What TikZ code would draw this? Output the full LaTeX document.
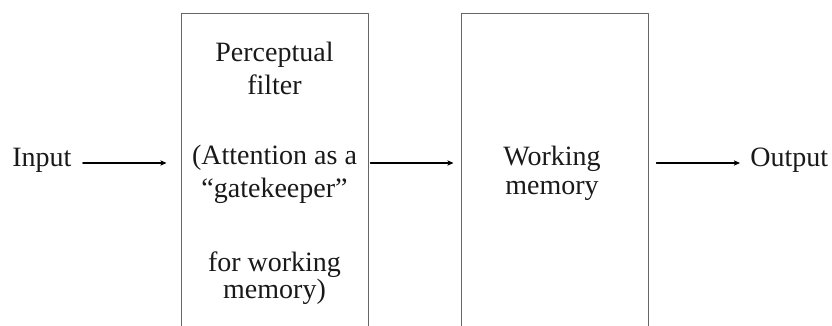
\documentclass[tikz,border=0pt]{standalone}
\usepackage{fontspec}
\setmainfont{Liberation Serif}
\usepackage{tikz}
\usetikzlibrary{arrows.meta}

\begin{document}
\begin{tikzpicture}[line cap=round,line join=round,>={Stealth[length=3pt,width=2.6pt,inset=0.6pt]},x=0.5pt,y=0.5pt,
		box/.style={draw=black!60,line width=0.5pt,minimum width=93.5pt,minimum height=180pt,inner sep=0pt},
		lbl/.style={anchor=base,inner sep=0pt,font=\fontsize{14}{16}\selectfont,text=black!90},
		arr/.style={->,line width=0.65pt,color=black}]
		\path[use as bounding box] (0,0) rectangle (832,326);
		\clip (0,0) rectangle (832,326);
		% boxes
		\node[box,anchor=north] (filter) at (274.5,313) {};
		\node[box,anchor=north] (memory) at (554.5,313) {};
		% texts in the boxes
		\node[lbl] (perc) at (274.5,264) {Perceptual};
		\node[lbl] (filt) at (274.5,231) {filter};
		\node[lbl] (att) at (274.5,161) {(Attention as a};
		\node[lbl] (gate) at (274.5,128) {“gatekeeper”};
		\node[lbl] (forw) at (274.5,54) {for working};
		\node[lbl] (wmem) at (274.5,27) {memory)};
		\node[lbl] (work) at (552,160) {Working};
		\node[lbl] (mem) at (552,131) {memory};
		% input and output
		\node[lbl,anchor=base west] (input) at (12,159) {Input};
		\node[lbl,anchor=base west] (output) at (750,159) {Output};
		\coordinate (lev) at (0,163);
		% arrows
		\draw[arr,shorten <=5.5pt,shorten >=7pt] (input.east |- lev) -- (filter.west |- lev);
		\draw[arr,shorten <=1pt,shorten >=3.5pt] (filter.east |- lev) -- (memory.west |- lev);
		\draw[arr,shorten <=4pt,shorten >=5pt] (memory.east |- lev) -- (output.west |- lev);
		\end{tikzpicture}
\end{document}
